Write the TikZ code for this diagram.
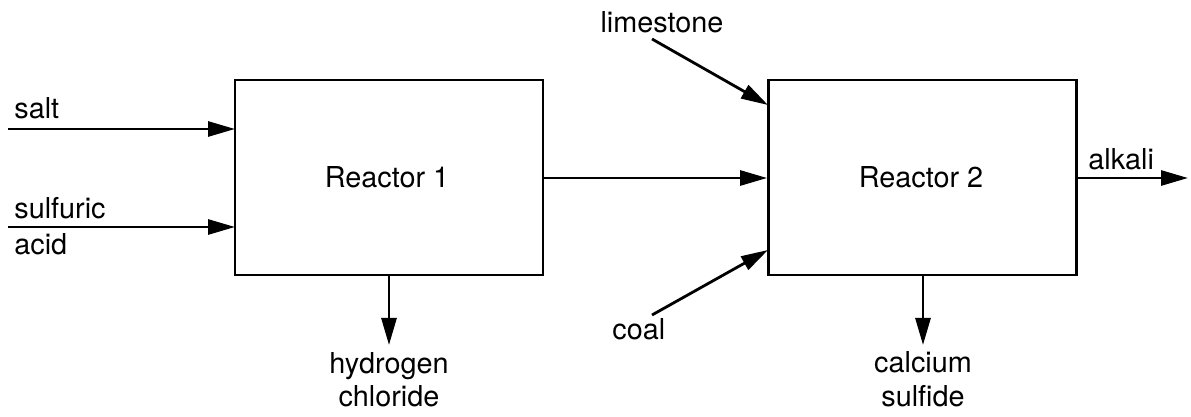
\documentclass[tikz,border=0pt]{standalone}
\usepackage{fontspec}
\setmainfont{TeX Gyre Heros}
\usetikzlibrary{arrows.meta}
\begin{document}
\begin{tikzpicture}[x=0.5pt,y=-0.5pt,
  line width=1.4pt,
  flow/.style={-{Triangle[length=13.5pt,width=7.5pt]}},
  reactor/.style={draw, line width=1.4pt, minimum width=154pt, minimum height=97.5pt, inner sep=0pt},
  lbl/.style={inner sep=0pt, font=\fontsize{14.4}{16}\selectfont},
  ]
\useasboundingbox (0,0) rectangle (1191,417);
\node[reactor] (r1) at (389,177.5) {};
\node[reactor] (r2) at (922.5,177.5) {};
\node[lbl, anchor=base] (t1) at (387,188) {Reactor 1};
\node[lbl, anchor=base] (t2) at (921,188) {Reactor 2};
% inputs reactor 1
\coordinate (saltS) at (8,129);
\coordinate (saltE) at (235,129);
\draw[flow] (saltS) -- (saltE);
\node[lbl, anchor=base west] (salt) at (13,119) {salt};
\coordinate (sulfS) at (8,227);
\coordinate (sulfE) at (235,227);
\draw[flow] (sulfS) -- (sulfE);
\node[lbl, anchor=base west] (sulf) at (13,219) {sulfuric};
\node[lbl, anchor=base west] (acid) at (13,255) {acid};
% middle
\draw[flow] (r1.east |- 0,178) -- (r2.west |- 0,178);
% limestone
\node[lbl, anchor=base] (lime) at (662,33) {limestone};
\coordinate (limeS) at (652,39);
\coordinate (limeE) at (768,105);
\draw[flow] (limeS) -- (limeE);
% coal
\node[lbl, anchor=base west] (coal) at (611,340) {coal};
\coordinate (coalS) at (652,315);
\coordinate (coalE) at (768,250);
\draw[flow] (coalS) -- (coalE);
% alkali
\coordinate (alkE) at (1188,178);
\draw[flow] (r2.east |- 0,178) -- (alkE);
\node[lbl, anchor=base west] (alk) at (1087,170) {alkali};
% outputs
\coordinate (hclE) at (389,345);
\draw[flow] (r1.south) -- (hclE);
\node[lbl, anchor=base] (hcl1) at (389,373) {hydrogen};
\node[lbl, anchor=base] (hcl2) at (389,407) {chloride};
\coordinate (casE) at (923,345);
\draw[flow] (r2.south -| casE) -- (casE);
\node[lbl, anchor=base] (cas1) at (923,372) {calcium};
\node[lbl, anchor=base] (cas2) at (923,407) {sulfide};
\end{tikzpicture}
\end{document}
